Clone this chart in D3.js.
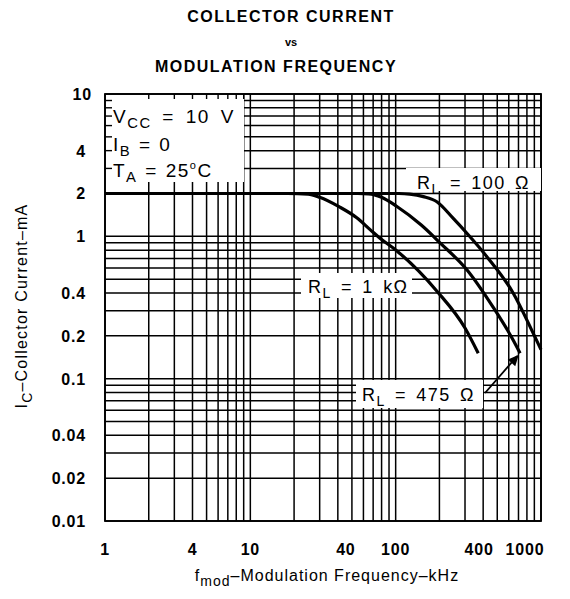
<!DOCTYPE html>
<html>
<head>
<meta charset="utf-8">
<script src="https://cdn.jsdelivr.net/npm/d3@7/dist/d3.min.js"></script>
<style>
  html, body { margin: 0; padding: 0; background: #fff; }
  svg { display: block; }
  text { font-family: "Liberation Sans", Arial, sans-serif; fill: #000; }
</style>
</head>
<body>
<svg id="chart" width="570" height="599"></svg>
<script>
// ---- Data ----
const xTickValues = [1, 4, 10, 40, 100, 400, 1000];
const xTickLabels = ["1", "4", "10", "40", "100", "400", "1000"];
const yTickValues = [10, 4, 2, 1, 0.4, 0.2, 0.1, 0.04, 0.02, 0.01];
const yTickLabels = ["10", "4", "2", "1", "0.4", "0.2", "0.1", "0.04", "0.02", "0.01"];

const freq1k  = [1, 18, 25, 30, 41, 54, 67, 78, 102, 193, 300, 370];
const curr1k  = [2, 2, 1.98, 1.88, 1.61, 1.35, 1.11, 0.97, 0.79, 0.41, 0.227, 0.151];
const freq475 = [1, 55, 65, 80, 102, 150, 202, 310, 468, 643, 718];
const curr475 = [2, 2, 1.99, 1.88, 1.62, 1.2, 0.9, 0.58, 0.318, 0.187, 0.151];
const freq100 = [1, 105, 125, 155, 192, 250, 308, 424, 643, 883, 1000];
const curr100 = [2, 2, 1.98, 1.9, 1.75, 1.33, 1.055, 0.72, 0.40, 0.209, 0.16];

// ---- Layout ----
const svg = d3.select("#chart");
const pL = 105, pR = 541, pT = 94, pB = 521;
const x = d3.scaleLog().domain([1, 1000]).range([pL, pR]);
const y = d3.scaleLog().domain([0.01, 10]).range([pB, pT]);

// grid values (1..9 per decade)
const xGrid = [], yGrid = [];
[1, 10, 100].forEach(d => { for (let k = 1; k < 10; k++) xGrid.push(d * k); });
xGrid.push(1000);
[0.01, 0.1, 1].forEach(d => { for (let k = 1; k < 10; k++) yGrid.push(+(d * k).toPrecision(3)); });
yGrid.push(10);

const g = svg.append("g");

// gridlines
g.selectAll("line.vg").data(xGrid).enter().append("line")
  .attr("x1", d => x(d)).attr("x2", d => x(d))
  .attr("y1", pT).attr("y2", pB)
  .attr("stroke", "#000").attr("stroke-width", 1.5);
g.selectAll("line.hg").data(yGrid).enter().append("line")
  .attr("x1", pL).attr("x2", pR)
  .attr("y1", d => y(d)).attr("y2", d => y(d))
  .attr("stroke", "#000").attr("stroke-width", 1.5);

// frame
g.append("rect").attr("x", pL).attr("y", pT)
  .attr("width", pR - pL).attr("height", pB - pT)
  .attr("fill", "none").attr("stroke", "#000").attr("stroke-width", 1.8);

// ---- Curves ----
const line = d3.line().x(d => x(d[0])).y(d => y(d[1])).curve(d3.curveMonotoneX);
const series = [
  d3.zip(freq1k, curr1k),
  d3.zip(freq475, curr475),
  d3.zip(freq100, curr100)
];
g.selectAll("path.curve").data(series).enter().append("path")
  .attr("d", line).attr("fill", "none")
  .attr("stroke", "#000").attr("stroke-width", 3.2)
  .attr("stroke-linejoin", "round");

// ---- Annotation boxes ----
function box(x0, y0, w, h) {
  g.append("rect").attr("x", x0).attr("y", y0).attr("width", w).attr("height", h).attr("fill", "#fff");
}
// parameter box
box(pL + 1, pT + 1, 138, 87);
g.selectAll("line.stubL").data(yGrid.filter(v => y(v) > pT + 2 && y(v) < pT + 88)).enter().append("line")
  .attr("x1", pL).attr("x2", pL + 7).attr("y1", d => y(d)).attr("y2", d => y(d))
  .attr("stroke", "#000").attr("stroke-width", 1.4);
g.selectAll("line.stubT").data(xGrid.filter(v => x(v) > pL + 2 && x(v) < pL + 139)).enter().append("line")
  .attr("x1", d => x(d)).attr("x2", d => x(d)).attr("y1", pT).attr("y2", pT + 5)
  .attr("stroke", "#000").attr("stroke-width", 1.4);

box(406, 168, 135, 23);   // RL = 100
box(301, 273, 111, 25);   // RL = 1k
box(356, 380, 127, 28);   // RL = 475

function subText(xp, yp, main, sub, rest, size, ls, ws) {
  const t = g.append("text").attr("x", xp).attr("y", yp)
    .style("font-size", size + "px").style("letter-spacing", ls + "px")
    .style("word-spacing", ws + "px");
  t.append("tspan").text(main);
  t.append("tspan").attr("dy", 5).style("font-size", (size * 0.78) + "px").text(sub);
  t.append("tspan").attr("dy", -5).text(rest);
  return t;
}
subText(113, 123, "V", "CC", " = 10 V", 19, 1.5, 4);
subText(113, 151, "I", "B", " = 0", 19, 1.5, 1);
const ta = subText(113, 177, "T", "A", " = 25", 19, 1.5, 1);
ta.append("tspan").attr("dy", -8).style("font-size", "11px").text("o");
ta.append("tspan").attr("dy", 8).text("C");

subText(417, 189, "R", "L", " = 100 Ω", 18, 1.4, 3);
subText(308, 293, "R", "L", " = 1 kΩ", 18, 1.4, 3);
subText(362, 401, "R", "L", " = 475 Ω", 18, 1.4, 3);

// arrow from 475 label to end of its curve
const endPt = [x(freq475[freq475.length - 1]), y(curr475[curr475.length - 1])];
const startPt = [485, 393];
g.append("line").attr("x1", startPt[0]).attr("y1", startPt[1])
  .attr("x2", endPt[0] - 3).attr("y2", endPt[1] + 3)
  .attr("stroke", "#000").attr("stroke-width", 1.8);
{
  const ang = Math.atan2(endPt[1] - startPt[1], endPt[0] - startPt[0]);
  const L = 11, W = 5;
  const tip = [endPt[0] - 2 * Math.cos(ang), endPt[1] - 2 * Math.sin(ang)];
  const bx = tip[0] - L * Math.cos(ang), by = tip[1] - L * Math.sin(ang);
  const p = [tip, [bx + W * Math.sin(ang), by - W * Math.cos(ang)], [bx - W * Math.sin(ang), by + W * Math.cos(ang)]];
  g.append("path").attr("d", "M" + p.map(q => q.join(",")).join("L") + "Z").attr("fill", "#000");
}

// ---- Axes tick labels ----
svg.selectAll("text.xt").data(xTickValues).enter().append("text")
  .attr("x", d => d === 1000 ? x(d) - 16 : (d === 40 ? x(d) + 8 : (d === 400 ? x(d) - 4 : x(d))))
  .attr("y", 555).attr("text-anchor", "middle")
  .style("font-size", "16px").style("font-weight", "bold").style("letter-spacing", "0.8px")
  .text((d, i) => xTickLabels[i]);
svg.selectAll("text.yt").data(yTickValues).enter().append("text")
  .attr("x", d => d === 10 ? 92 : 86).attr("y", d => y(d) + 6).attr("text-anchor", "end")
  .style("font-size", "16px").style("font-weight", "bold").style("letter-spacing", "0.8px")
  .text((d, i) => yTickLabels[i]);

// ---- Titles ----
svg.append("text").attr("x", 291).attr("y", 22).attr("text-anchor", "middle")
  .style("font-size", "16px").style("font-weight", "bold").style("letter-spacing", "1.5px")
  .text("COLLECTOR CURRENT");
svg.append("text").attr("x", 291).attr("y", 46).attr("text-anchor", "middle")
  .style("font-size", "11px").style("font-weight", "bold")
  .text("vs");
svg.append("text").attr("x", 276).attr("y", 72).attr("text-anchor", "middle")
  .style("font-size", "16px").style("font-weight", "bold").style("letter-spacing", "1.5px")
  .text("MODULATION FREQUENCY");

// x axis title
{
  const t = svg.append("text").attr("x", 327).attr("y", 581).attr("text-anchor", "middle")
    .style("font-size", "16px").style("letter-spacing", "1px");
  t.append("tspan").text("f");
  t.append("tspan").attr("dy", 5).style("font-size", "14px").text("mod");
  t.append("tspan").attr("dy", -5).text("\u2013Modulation Frequency\u2013kHz");
}
// y axis title
{
  const t = svg.append("text").attr("transform", "translate(27,306) rotate(-90)")
    .attr("text-anchor", "middle").style("font-size", "16px").style("letter-spacing", "1.2px");
  t.append("tspan").text("I");
  t.append("tspan").attr("dy", 5).style("font-size", "14px").text("C");
  t.append("tspan").attr("dy", -5).text("\u2013Collector Current\u2013mA");
}
</script>
</body>
</html>
